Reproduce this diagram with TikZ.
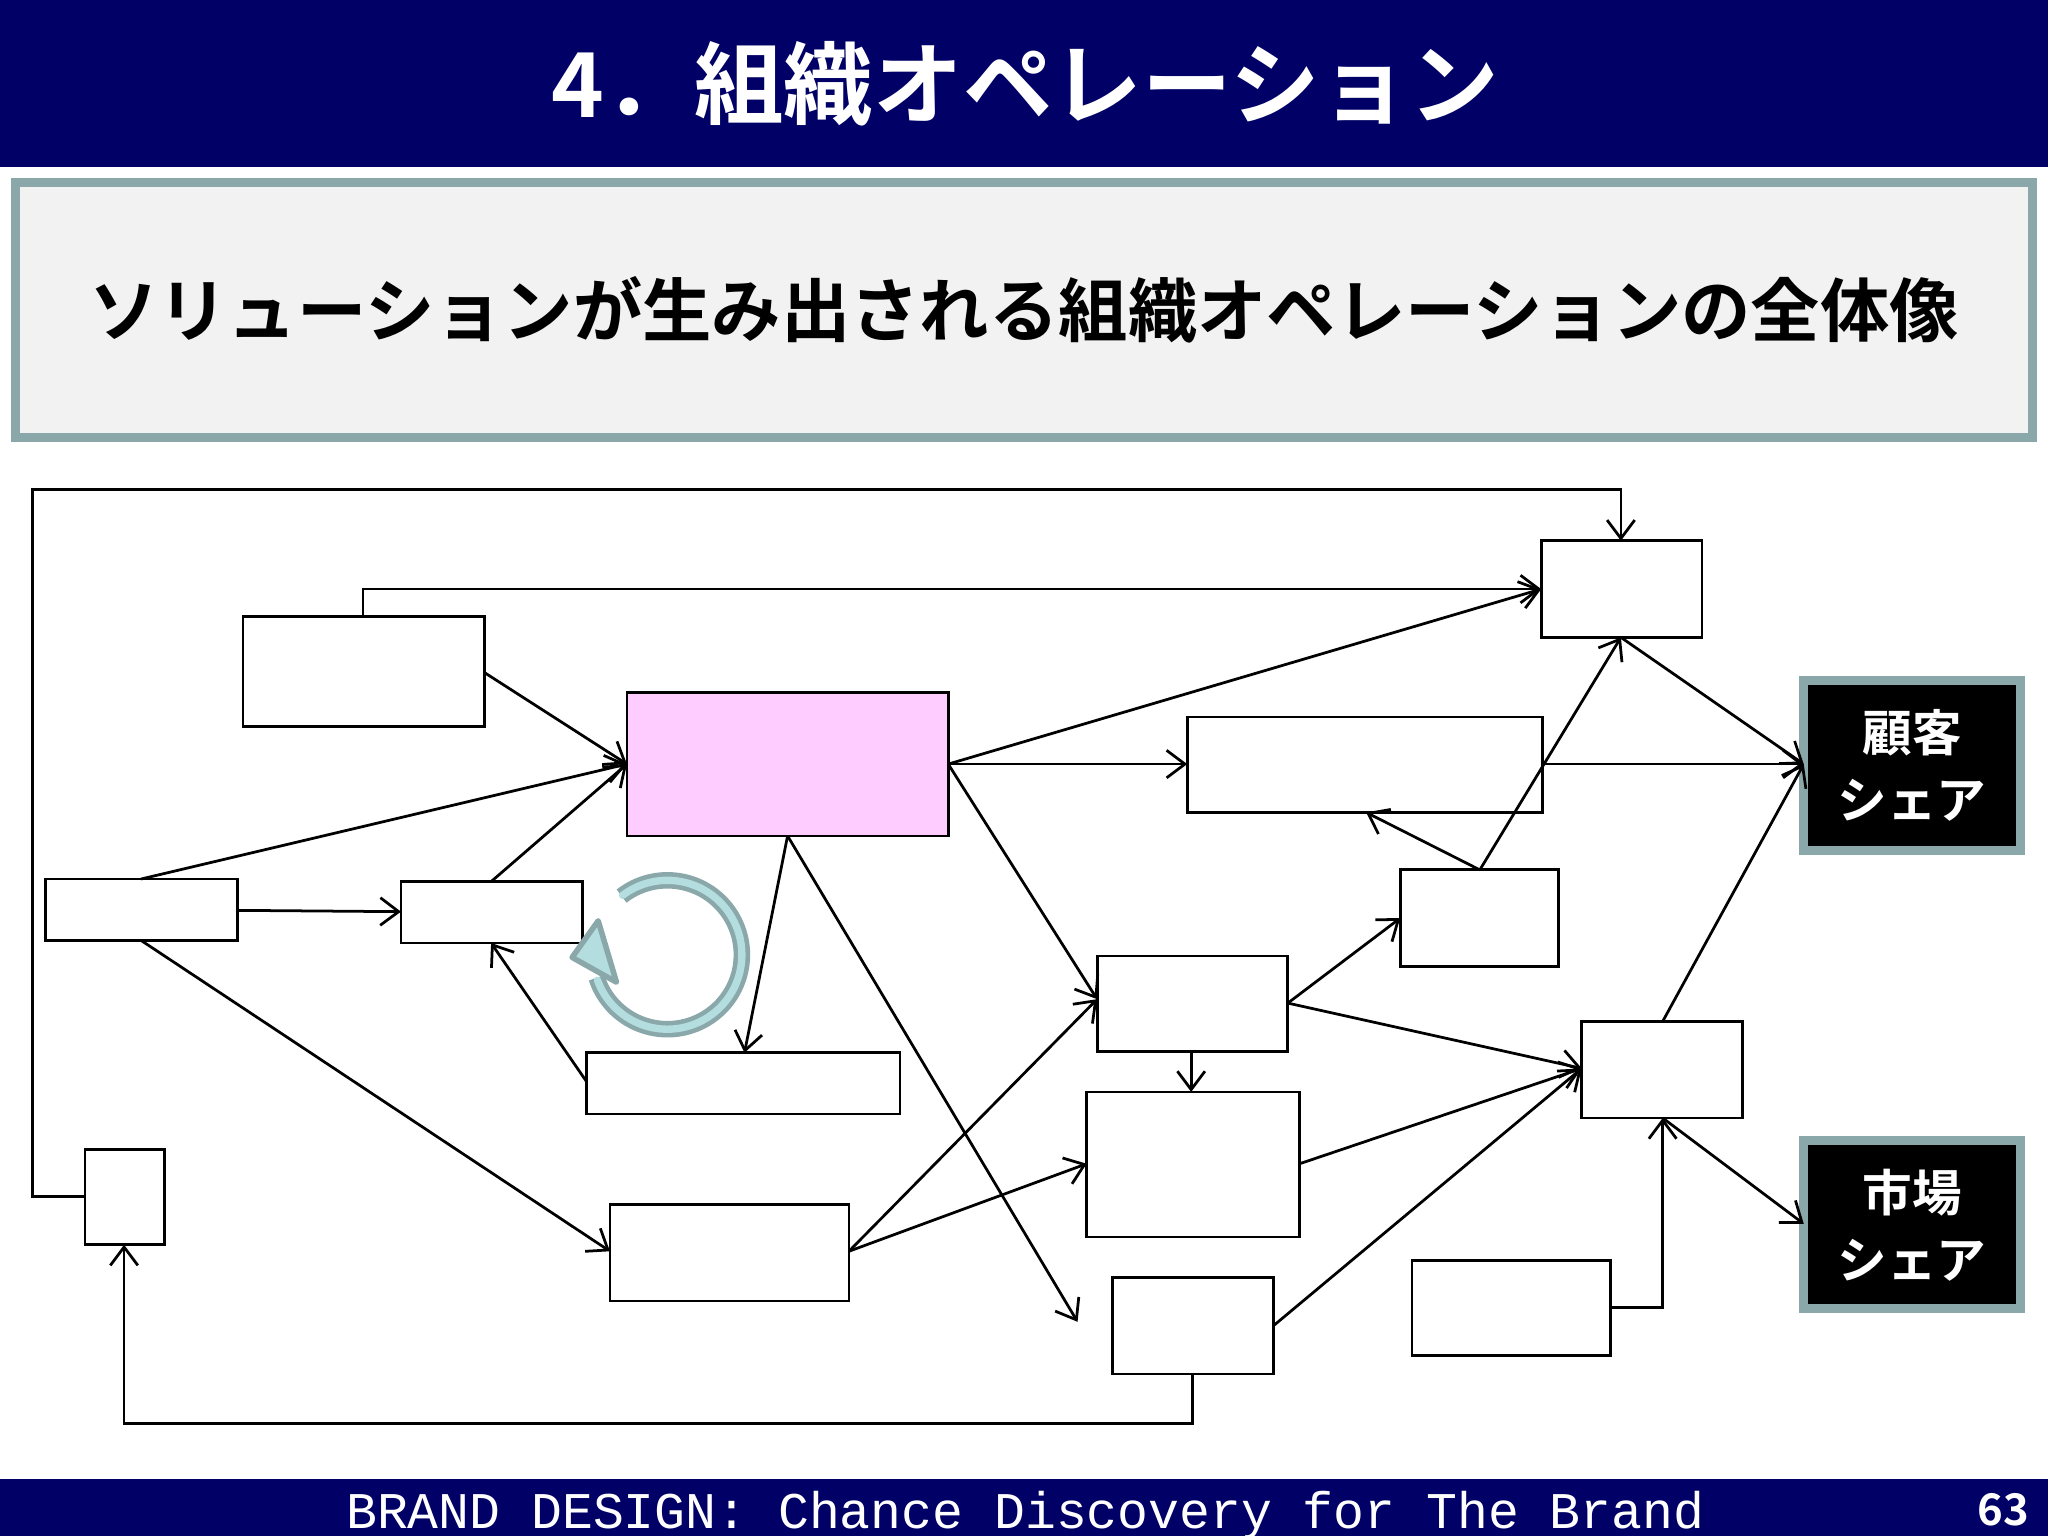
\documentclass[tikz,border=0pt]{standalone}
\usepackage{fontspec}
\newfontfamily\jp{Noto Sans CJK JP}[BoldFont={Noto Sans CJK JP Bold}]
\newfontfamily\mono{Liberation Mono}
\usetikzlibrary{arrows.meta}
\definecolor{navy}{HTML}{000066}
\definecolor{ringin}{HTML}{B4DDE0}
\definecolor{ringout}{HTML}{8AA8AA}
\tikzset{bx/.style={draw=black,line width=0.6pt,fill=white},
 ar/.style={draw=black,line width=0.6pt,-{Straight Barb[length=4pt,width=6pt]}},
 sh/.style={draw=ringout,line width=2pt,fill=black}}
\begin{document}
\begin{tikzpicture}[x=0.01cm,y=-0.01cm]
\useasboundingbox (0,0) rectangle (1568,1176);
\fill[navy] (0,0) rectangle (1568,128);
\node[text=white,font=\jp\bfseries\fontsize{19.5}{24}\selectfont] (title) at (785,64) {4．組織オペレーション};
\draw[draw=ringout,line width=2pt,fill=black!5] (12,140) rectangle (1556,335);
\node[font=\jp\bfseries\fontsize{15.1}{18}\selectfont] (sub) at (784,237) {ソリューションが生み出される組織オペレーションの全体像};
\fill[navy] (0,1132) rectangle (1568,1176);
\node[text=white,font=\mono\fontsize{11.2}{12}\selectfont] (foot) at (785,1160) {BRAND DESIGN: Chance Discovery for The Brand};
\node[text=white,font=\jp\bfseries\fontsize{9.5}{11}\selectfont,anchor=east] (pg) at (1566,1156) {63};
% boxes
\path[bx] (186,472) rectangle (371,556);
\path[bx,fill={rgb,255:red,255;green,204;blue,255}] (480,530) rectangle (726,640);
\path[bx] (35,673) rectangle (182,720);
\path[bx] (307,675) rectangle (446,722);
\path[bx] (449,806) rectangle (689,853);
\path[bx] (467,922) rectangle (650,996);
\path[bx] (65,880) rectangle (126,953);
\path[bx] (1180,414) rectangle (1303,488);
\path[bx] (909,549) rectangle (1181,622);
\path[bx] (1072,666) rectangle (1193,740);
\path[bx] (840,732) rectangle (986,805);
\path[bx] (832,836) rectangle (995,947);
\path[bx] (852,978) rectangle (975,1052);
\path[bx] (1081,965) rectangle (1233,1038);
\path[bx] (1211,782) rectangle (1334,856);
\path[sh] (1381,521) rectangle (1547,651);
\node[text=white,font=\jp\bfseries\fontsize{10.8}{14.5}\selectfont,align=center] (c1) at (1464,586) {顧客\\シェア};
\path[sh] (1381,873) rectangle (1547,1002);
\node[text=white,font=\jp\bfseries\fontsize{10.8}{14.5}\selectfont,align=center] (c2) at (1464,938) {市場\\シェア};
% coordinates
\coordinate (Sl) at (65,916); \coordinate (Tt) at (1241,414); \coordinate (At) at (278,472);
\coordinate (Tl) at (1180,451); \coordinate (Ar) at (371,515); \coordinate (Pl) at (480,585);
\coordinate (Lt) at (108,673); \coordinate (Lr) at (182,697); \coordinate (Ml) at (307,698);
\coordinate (Mt) at (376,675); \coordinate (Lb) at (108,720); \coordinate (Ql) at (467,958);
\coordinate (Nl) at (449,828); \coordinate (Mb) at (376,722); \coordinate (Pb) at (603,640);
\coordinate (Nt) at (570,806); \coordinate (free) at (825,1012); \coordinate (Pr) at (726,585);
\coordinate (Ul) at (909,585); \coordinate (Wl) at (840,765); \coordinate (Ur) at (1181,585);
\coordinate (C1l) at (1381,585); \coordinate (Tb) at (1241,488); \coordinate (Vt) at (1133,666);
\coordinate (Ub) at (1046,622); \coordinate (Wr) at (986,768); \coordinate (Vl) at (1072,703);
\coordinate (Rl) at (1211,818); \coordinate (Wb) at (912,805); \coordinate (Xt) at (912,836);
\coordinate (Qr) at (650,958); \coordinate (Xl) at (832,891); \coordinate (Xr) at (995,891);
\coordinate (Yr) at (975,1015); \coordinate (Rt) at (1273,782); \coordinate (Rb) at (1273,856);
\coordinate (C2l) at (1381,937); \coordinate (Zr) at (1233,1001); \coordinate (Yb) at (913,1052);
\coordinate (Sb) at (95,953);
% connectors
\draw[ar] (Sl) -- (25,916) -- (25,375) -- (1241,375) -- (Tt);
\draw[ar] (At) -- (278,451) -- (Tl);
\draw[ar] (Ar) -- (Pl);
\draw[ar] (Lt) -- (Pl);
\draw[ar] (Lr) -- (Ml);
\draw[ar] (Mt) -- (Pl);
\draw[ar] (Lb) -- (Ql);
\draw[ar] (Nl) -- (Mb);
\draw[ar] (Pb) -- (Nt);
\draw[ar] (Pb) -- (free);
\draw[ar] (Pr) -- (Tl);
\draw[ar] (Pr) -- (Ul);
\draw[ar] (Pr) -- (Wl);
\draw[ar] (Ur) -- (C1l);
\draw[ar] (Tb) -- (C1l);
\draw[ar] (Vt) -- (Ub);
\draw[ar] (Vt) -- (Tb);
\draw[ar] (Wr) -- (Vl);
\draw[ar] (Wr) -- (Rl);
\draw[ar] (Wb) -- (Xt);
\draw[ar] (Qr) -- (Wl);
\draw[ar] (Qr) -- (Xl);
\draw[ar] (Xr) -- (Rl);
\draw[ar] (Yr) -- (Rl);
\draw[ar] (Rt) -- (C1l);
\draw[ar] (Rb) -- (C2l);
\draw[ar] (Zr) -- (1273,1001) -- (Rb);
\draw[ar] (Yb) -- (913,1090) -- (95,1090) -- (Sb);
% cycle arrow (y axis flipped: visual angle = -angle)
\coordinate (rc) at (511,731);
\draw[ringout,line width=3.6pt] ([shift={(-128:57)}]rc) arc[start angle=-128,end angle=162,radius=57];
\draw[ringin,line width=1.6pt,line cap=round] ([shift={(-127:57)}]rc) arc[start angle=-127,end angle=160,radius=57];
\draw[ringout,line width=1.2pt,fill=ringin,line join=round] (438,733) -- (458,705) -- (472,752) -- cycle;
\end{tikzpicture}
\end{document}
